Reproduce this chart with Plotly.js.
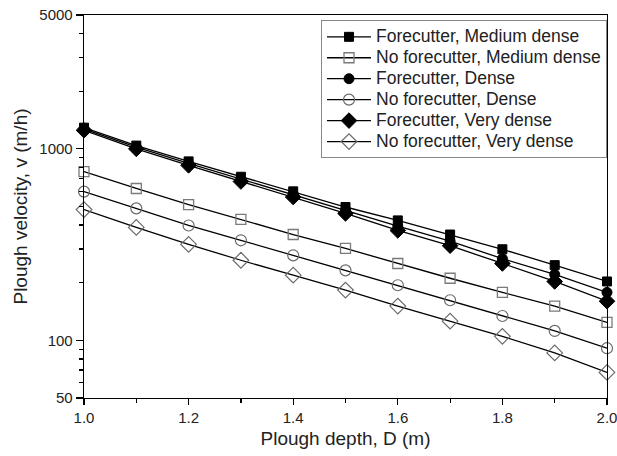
<!DOCTYPE html>
<html>
<head>
<meta charset="utf-8">
<script src="https://cdn.plot.ly/plotly-3.0.1.min.js"></script>
<style>html,body{margin:0;padding:0;background:#fff;}#chart{width:617px;height:456px;}</style>
</head>
<body>
<div id="chart"></div>
<script>
const depth = [1.0, 1.1, 1.2, 1.3, 1.4, 1.5, 1.6, 1.7, 1.8, 1.9, 2.0];
const fcMedium   = [1290, 1040, 860, 715, 600, 497, 423, 357, 299, 247, 203];
const nofcMedium = [761, 621, 512, 428, 357, 302, 252, 211, 178, 151, 124];
const fcDense    = [1270, 1020, 840, 695, 580, 478, 395, 330, 267, 221, 178];
const nofcDense  = [598, 489, 398, 333, 278, 232, 194, 162, 134, 112, 91];
const fcVery     = [1250, 1000, 820, 675, 560, 460, 375, 312, 252, 203, 160];
const nofcVery   = [482, 389, 317, 262, 219, 183, 151, 126, 105, 86, 68];
const seriesNames = ["Forecutter, Medium dense", "No forecutter, Medium dense", "Forecutter, Dense",
  "No forecutter, Dense", "Forecutter, Very dense", "No forecutter, Very dense"];
const yMajorTicks = [50, 100, 1000, 5000];
const yMinorTicks = [60, 70, 80, 90, 200, 300, 400, 500, 600, 700, 800, 900, 2000, 3000, 4000];
const xTicks = [1.0, 1.2, 1.4, 1.6, 1.8, 2.0];
const xMinorTicks = [1.1, 1.3, 1.5, 1.7, 1.9];

const ys = [fcMedium, nofcMedium, fcDense, nofcDense, fcVery, nofcVery];
const markers = [
  {symbol: 'square', size: 9, color: '#000', line: {color: '#000', width: 1}},
  {symbol: 'square-open', size: 10, color: '#7a7a7a', line: {width: 1.3}},
  {symbol: 'circle', size: 10, color: '#000', line: {color: '#000', width: 1}},
  {symbol: 'circle-open', size: 11, color: '#6a6a6a', line: {width: 1.2}},
  {symbol: 'diamond', size: 12, color: '#000', line: {color: '#000', width: 1}},
  {symbol: 'diamond-open', size: 12, color: '#6a6a6a', line: {width: 1.2}}
];
const traces = ys.map((y, i) => ({
  x: depth, y: y, name: '<span style="font-size:17.5px">' + seriesNames[i] + '</span>',
  type: 'scatter', mode: 'lines+markers',
  line: {color: '#000', width: 1.3}, marker: markers[i], cliponaxis: false
}));

const layout = {
  width: 617, height: 456,
  margin: {l: 84, r: 10, t: 15, b: 58},
  paper_bgcolor: '#fff', plot_bgcolor: '#fff',
  font: {family: 'Liberation Sans, Arial, sans-serif', color: '#222', size: 15},
  showlegend: true,
  legend: {
    x: 1.0, y: 0.986, xanchor: 'right', yanchor: 'top',
    bgcolor: '#fff', bordercolor: '#888', borderwidth: 1,
    font: {size: 13.8, color: '#222'}, itemwidth: 44, tracegroupgap: 0
  },
  xaxis: {
    range: [1.0, 2.0], tickvals: xTicks, ticktext: xTicks.map(v => v.toFixed(1)),
    ticks: 'outside', ticklen: 6, tickwidth: 1.2, tickcolor: '#000', ticklabeloverflow: 'allow',
    minor: {tickvals: xMinorTicks, ticks: 'outside', ticklen: 4, tickwidth: 1.2, tickcolor: '#000'},
    showline: true, linecolor: '#000', linewidth: 1.3, mirror: true, showgrid: false, zeroline: false,
    tickfont: {size: 15},
    title: {text: 'Plough depth, D (m)', font: {size: 19}, standoff: 6}
  },
  yaxis: {
    type: 'log', range: [Math.log10(50), Math.log10(5000)],
    tickvals: yMajorTicks, ticktext: yMajorTicks.map(String),
    ticks: 'outside', ticklen: 7, tickwidth: 1.2, tickcolor: '#000', ticklabeloverflow: 'allow',
    minor: {tickvals: yMinorTicks, ticks: 'outside', ticklen: 4, tickwidth: 1.2, tickcolor: '#000'},
    showline: true, linecolor: '#000', linewidth: 1.3, mirror: true, showgrid: false, zeroline: false,
    tickfont: {size: 15},
    title: {text: 'Plough velocity, v (m/h)', font: {size: 19}, standoff: 6}
  }
};
Plotly.newPlot('chart', traces, layout, {displayModeBar: false, staticPlot: true});
</script>
</body>
</html>
